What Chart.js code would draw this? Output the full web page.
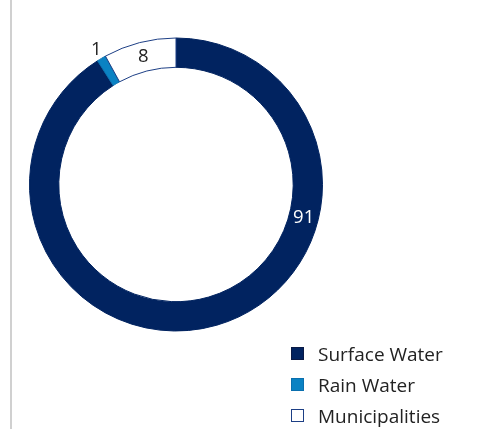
<!DOCTYPE html>
<html>
<head>
<meta charset="utf-8">
<script src="https://cdn.jsdelivr.net/npm/chart.js@4/dist/chart.umd.min.js"></script>
<style>
  html, body { margin: 0; padding: 0; background: #fff; }
  #wrap { position: relative; width: 477px; height: 429px; overflow: hidden; }
  #rule { position: absolute; left: 10px; top: 0; width: 2px; height: 429px; background: #d0d0d0; }
  #chart { position: absolute; left: 0; top: 0; }
  #legend { position: absolute; left: 291px; top: 338px; font-family: "Open Sans", "Noto Sans", sans-serif; font-size: 19px; color: #222; }
  .item { height: 31px; display: flex; align-items: center; }
  .box { width: 11px; height: 11px; border: 1px solid #1d3f85; margin-right: 14px; box-sizing: content-box; }
</style>
</head>
<body>
<div id="wrap">
  <div id="rule"></div>
  <canvas id="chart" width="477" height="429"></canvas>
  <div id="legend"></div>
</div>
<script>
// Water sources, share in percent
const categories = ['Surface Water', 'Rain Water', 'Municipalities'];
const shares = [91, 1, 8];

const fillColors = ['#012360', '#0a82c3', '#ffffff'];
const edgeColors = ['#012360', '#0a6fae', '#1d3f85'];

// Label placement: angle (degrees clockwise from top, null = slice middle),
// radial position (0 = inner edge, 1 = outer edge), and colour
const labelStyle = [
  { angle: 104.5, radial: 0.5, color: '#ffffff' },
  { angle: null, radial: 1.35, color: '#222222' },
  { angle: null, radial: 0.5, color: '#222222' }
];

const sliceLabels = {
  id: 'sliceLabels',
  afterDatasetsDraw(chart) {
    const ctx = chart.ctx;
    const meta = chart.getDatasetMeta(0);
    ctx.save();
    ctx.font = '18.5px "Open Sans", "Noto Sans", sans-serif';
    ctx.textAlign = 'center';
    ctx.textBaseline = 'middle';
    meta.data.forEach((arc, i) => {
      const p = arc.getProps(['x', 'y', 'startAngle', 'endAngle', 'innerRadius', 'outerRadius'], true);
      const st = labelStyle[i];
      const a = st.angle === null ? (p.startAngle + p.endAngle) / 2 : (st.angle - 90) * Math.PI / 180;
      const r = p.innerRadius + (p.outerRadius - p.innerRadius) * st.radial;
      ctx.fillStyle = st.color;
      ctx.fillText(String(chart.data.datasets[0].data[i]), p.x + r * Math.cos(a), p.y + r * Math.sin(a));
    });
    ctx.restore();
  }
};

new Chart(document.getElementById('chart'), {
  type: 'doughnut',
  data: {
    labels: categories,
    datasets: [{
      data: shares,
      backgroundColor: fillColors,
      borderColor: edgeColors,
      borderWidth: 1,
      hoverOffset: 0
    }]
  },
  options: {
    responsive: false,
    animation: false,
    cutout: '80%',
    layout: { padding: { left: 29, top: 37, right: 154, bottom: 97 } },
    plugins: { legend: { display: false }, tooltip: { enabled: false } }
  },
  plugins: [sliceLabels]
});

// Legend built from the same categories and colours
const legend = document.getElementById('legend');
categories.forEach((name, i) => {
  const row = document.createElement('div');
  row.className = 'item';
  const box = document.createElement('span');
  box.className = 'box';
  box.style.background = fillColors[i];
  box.style.borderColor = i === 0 ? '#0a1a45' : edgeColors[i];
  row.appendChild(box);
  row.appendChild(document.createTextNode(name));
  legend.appendChild(row);
});
</script>
</body>
</html>
